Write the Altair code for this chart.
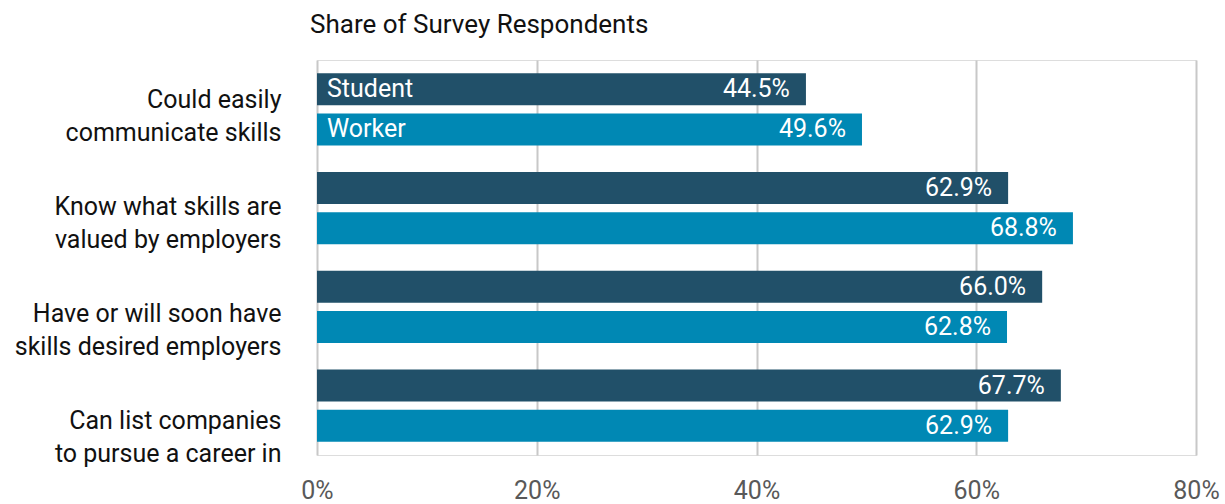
import altair as alt
import pandas as pd

categories = [
    "Could easily|communicate skills",
    "Know what skills are|valued by employers",
    "Have or will soon have|skills desired employers",
    "Can list companies|to pursue a career in",
]
series = ["Student", "Worker"]
student = [44.5, 62.9, 66.0, 67.7]
worker = [49.6, 68.8, 62.8, 62.9]
x_ticks = [0, 20, 40, 60, 80]
colors = ["#215069", "#0088B4"]

rows = []
for i, c in enumerate(categories):
    for s, vals in zip(series, [student, worker]):
        rows.append({
            "cat": c,
            "series": s,
            "value": vals[i],
            "label": f"{vals[i]:.1f}%",
            "name": s if i == 0 else "",
        })
df = pd.DataFrame(rows)
cats_df = pd.DataFrame({"cat": categories})

FONT = "Roboto"

x = alt.X(
    "value:Q",
    scale=alt.Scale(domain=[0, 80], nice=False, zero=True),
    axis=alt.Axis(
        values=x_ticks, labelExpr="datum.value + '%'", title=None,
        domain=False, ticks=False, grid=True, gridColor="#c8c8c8", gridWidth=2,
        labelFontSize=25, labelColor="#595959", labelPadding=23, labelFont=FONT,
        labelFlush=False,
    ),
)
y = alt.Y("cat:N", sort=categories, axis=None,
          scale=alt.Scale(paddingInner=0.27, paddingOuter=0.135))
yoff = alt.YOffset("series:N", sort=series,
                   scale=alt.Scale(paddingInner=0.2, paddingOuter=0))

base = alt.Chart(df)
bars = base.mark_bar().encode(
    x=x, y=y, yOffset=yoff,
    color=alt.Color("series:N", scale=alt.Scale(domain=series, range=colors), legend=None),
)
vals = base.mark_text(align="right", baseline="middle", dx=-16, color="white",
                      fontSize=25, font=FONT).encode(x=x, y=y, yOffset=yoff, text="label:N")
names = base.mark_text(align="left", baseline="middle", dx=10, color="white",
                       fontSize=25, font=FONT).encode(
    x=alt.datum(0), y=y, yOffset=yoff, text="name:N")

labels = alt.Chart(cats_df).mark_text(text="", opacity=0).encode(
    y=alt.Y("cat:N", sort=categories,
            scale=alt.Scale(type="point", range=[39, 360], padding=0),
            axis=alt.Axis(title=None, domain=False, ticks=False, grid=False,
                          labelExpr="split(datum.label, '|')",
                          labelFontSize=25, labelColor="#111111", labelFont=FONT,
                          labelPadding=36, labelLineHeight=33, labelAlign="right",
                          labelBaseline="middle", labelLimit=0)),
)

chart = alt.layer(bars, vals, names, labels).resolve_scale(y="independent").properties(
    width=879, height=395,
    title=alt.TitleParams("Share of Survey Respondents", anchor="start", frame="group",
                          fontSize=26, fontWeight="normal", color="#111111", font=FONT,
                          dx=-7, offset=22),
    autosize=alt.AutoSizeParams(type="none"),
    padding={"left": 317, "top": 60, "right": 29, "bottom": 49},
).configure_view(stroke=None).configure(background="white")

chart.save("out.html", embed_options={"renderer": "svg", "actions": False})
